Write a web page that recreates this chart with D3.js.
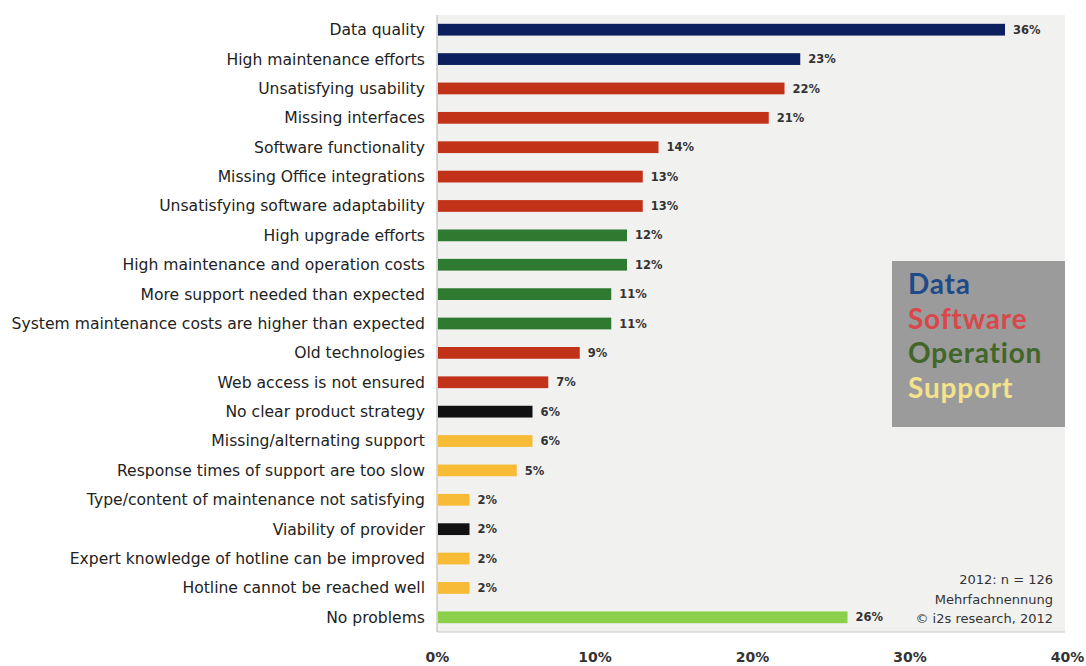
<!DOCTYPE html>
<html>
<head>
<meta charset="utf-8">
<script src="https://cdn.jsdelivr.net/npm/d3@7"></script>
<style>
  body { margin: 0; background: #fff; }
  svg { display: block; }
</style>
</head>
<body>
<div id="chart"></div>
<script>
const categories = [
  "Data quality", "High maintenance efforts", "Unsatisfying usability", "Missing interfaces",
  "Software functionality", "Missing Office integrations", "Unsatisfying software adaptability",
  "High upgrade efforts", "High maintenance and operation costs", "More support needed than expected",
  "System maintenance costs are higher than expected", "Old technologies", "Web access is not ensured",
  "No clear product strategy", "Missing/alternating support", "Response times of support are too slow",
  "Type/content of maintenance not satisfying", "Viability of provider",
  "Expert knowledge of hotline can be improved", "Hotline cannot be reached well", "No problems"
];
const values = [36, 23, 22, 21, 14, 13, 13, 12, 12, 11, 11, 9, 7, 6, 6, 5, 2, 2, 2, 2, 26];
const groups = [
  "Data", "Data", "Software", "Software", "Software", "Software", "Software",
  "Operation", "Operation", "Operation", "Operation", "Software", "Software",
  "Other", "Support", "Support", "Support", "Other", "Support", "Support", "None"
];
const xTicks = [0, 10, 20, 30, 40];
const legendItems = ["Data", "Software", "Operation", "Support"];
const notes = ["2012: n = 126", "Mehrfachnennung", "\u00a9 i2s research, 2012"];

const barColor = d3.scaleOrdinal()
  .domain(["Data", "Software", "Operation", "Support", "Other", "None"])
  .range(["#0c1f5e", "#c23219", "#2e7a30", "#f7bb36", "#111111", "#8ccf4a"]);
const legendColor = d3.scaleOrdinal()
  .domain(legendItems)
  .range(["#1f4a8a", "#d9474a", "#416628", "#f3e38c"]);

const width = 1086, height = 666;
const margin = {top: 15, right: 20, bottom: 34, left: 437};

const svg = d3.select("#chart").append("svg")
  .attr("width", width)
  .attr("height", height);

const x = d3.scaleLinear().domain([0, 40]).range([margin.left, 1067]);
const y = d3.scaleBand().domain(categories)
  .range([margin.top, height - margin.bottom])
  .paddingInner(0.6).paddingOuter(0.3);

// plot background
svg.append("rect")
  .attr("x", x(0)).attr("y", margin.top)
  .attr("width", x(40) - x(0) - 2)
  .attr("height", height - margin.bottom - margin.top)
  .attr("fill", "#f1f1f0");

svg.append("line")
  .attr("x1", x(0)).attr("x2", x(0))
  .attr("y1", margin.top).attr("y2", height - margin.bottom)
  .attr("stroke", "#b5b5b5");
svg.append("line")
  .attr("x1", x(0)).attr("x2", x(40) - 2)
  .attr("y1", height - margin.bottom).attr("y2", height - margin.bottom)
  .attr("stroke", "#c8c8c8");

// bars
svg.append("g")
  .selectAll("rect")
  .data(categories)
  .join("rect")
  .attr("x", x(0) + 1)
  .attr("y", d => y(d))
  .attr("height", y.bandwidth())
  .attr("width", (d, i) => x(values[i]) - x(0))
  .attr("fill", (d, i) => barColor(groups[i]));

// value labels
svg.append("g")
  .selectAll("text")
  .data(categories)
  .join("text")
  .attr("x", (d, i) => x(values[i]) + 9)
  .attr("y", d => y(d) + y.bandwidth() / 2)
  .attr("dy", "0.36em")
  .attr("font-family", "DejaVu Sans, sans-serif")
  .attr("font-size", 11.5)
  .attr("font-weight", "bold")
  .attr("fill", "#333")
  .text((d, i) => values[i] + "%");

// category labels
svg.append("g")
  .selectAll("text")
  .data(categories)
  .join("text")
  .attr("x", 425)
  .attr("y", d => y(d) + y.bandwidth() / 2)
  .attr("dy", "0.35em")
  .attr("text-anchor", "end")
  .attr("font-family", "DejaVu Sans, sans-serif")
  .attr("font-size", 15.6)
  .attr("fill", "#222")
  .text(d => d);

// x axis labels
const xAxis = d3.axisBottom(x)
  .tickValues(xTicks)
  .tickFormat(d => d + "%")
  .tickSize(0)
  .tickPadding(20);
const gx = svg.append("g")
  .attr("transform", `translate(0,${height - margin.bottom})`)
  .call(xAxis);
gx.select(".domain").remove();
gx.selectAll("text")
  .attr("font-family", "DejaVu Sans, sans-serif")
  .attr("font-size", 14)
  .attr("font-weight", "bold")
  .attr("fill", "#333");

// legend box
const lg = svg.append("g");
lg.append("rect")
  .attr("x", 892).attr("y", 261)
  .attr("width", 173).attr("height", 166)
  .attr("fill", "#9b9b9b");
lg.selectAll("text")
  .data(legendItems)
  .join("text")
  .attr("x", 908)
  .attr("y", (d, i) => 294 + i * 34.5)
  .attr("font-family", "Lato, sans-serif")
  .attr("font-size", 28)
  .attr("font-weight", "bold")
  .attr("letter-spacing", 0.8)
  .attr("fill", d => legendColor(d))
  .text(d => d);

// notes
svg.append("g")
  .selectAll("text")
  .data(notes)
  .join("text")
  .attr("x", 1053)
  .attr("y", (d, i) => 584 + i * 19.5)
  .attr("text-anchor", "end")
  .attr("font-family", "DejaVu Sans, sans-serif")
  .attr("font-size", 13)
  .attr("fill", "#333")
  .text(d => d);
</script>
</body>
</html>
